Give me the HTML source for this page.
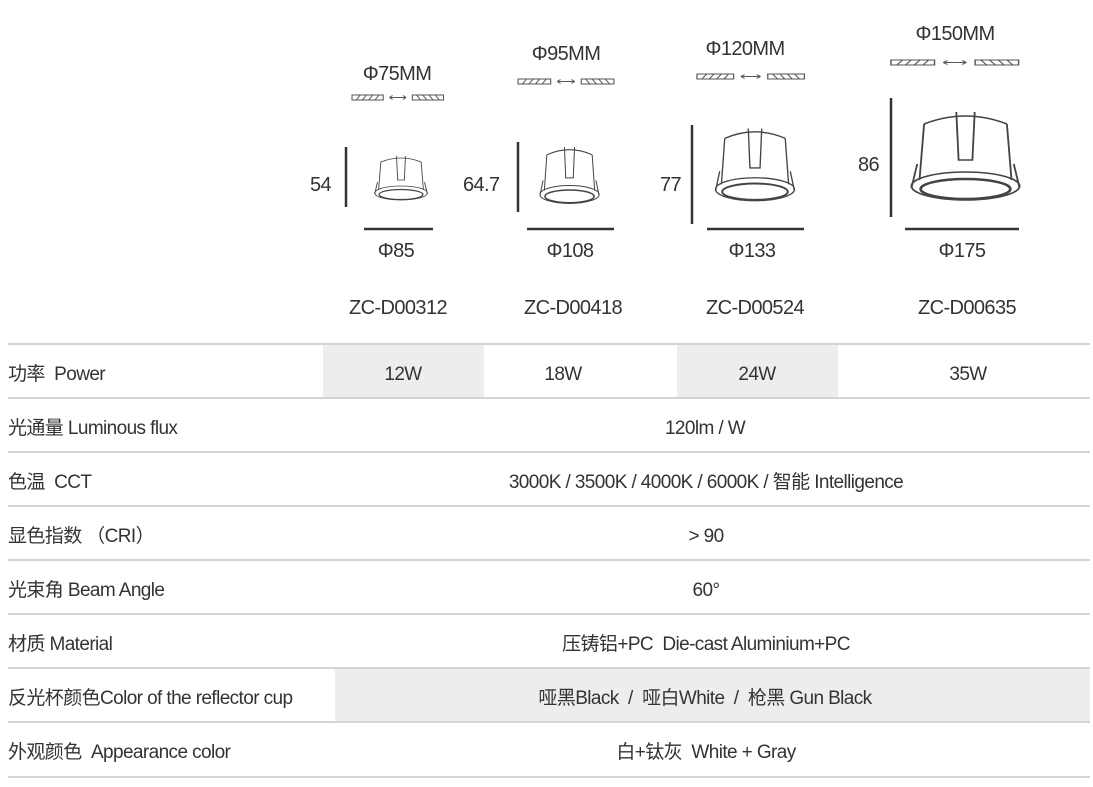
<!DOCTYPE html>
<html><head><meta charset="utf-8"><style>
body{margin:0;background:#fff;}
#c{position:relative;width:1093px;height:787px;overflow:hidden;font-family:"Liberation Sans","Noto Sans CJK SC",sans-serif;color:#333;}
.t{position:absolute;font-size:19px;letter-spacing:-0.6px;white-space:nowrap;line-height:22px;}
.b{font-size:20px;}
.ctr{transform:translateX(-50%);}
.g{position:absolute;background:#ededed;}
.ln{position:absolute;left:8px;width:1082px;height:2px;background:#d4d4d4;}
</style></head><body><div id="c">
<svg width="1093" height="340" style="position:absolute;left:0;top:0">
<defs>
<g id="lamp" fill="none" stroke="#444" stroke-width="1.6">
<path d="M14 20 Q50 4 86 20"/>
<path d="M14 20 L10 76 M86 20 L90 76"/>
<path d="M42 8 L44 56 L56 56 L58 8"/>
<path d="M8 60 L3 84 M92 60 L97 84"/>
<ellipse cx="50" cy="82" rx="47" ry="14"/>
<ellipse cx="50" cy="85" rx="39" ry="10" stroke-width="2.4"/>
</g>
<g id="ceil" stroke="#555" stroke-width="1" fill="none">
<rect x="0" y="0" width="30" height="5"/><path d="M4 5 L8 0 M10 5 L14 0 M16 5 L20 0 M22 5 L26 0"/>
<rect x="58" y="0" width="30" height="5"/><path d="M62 0 L66 5 M68 0 L72 5 M74 0 L78 5 M80 0 L84 5"/>
<path d="M36 2.5 L52 2.5 M36 2.5 l3 -2 M36 2.5 l3 2 M52 2.5 l-3 -2 M52 2.5 l-3 2"/>
</g>
</defs>
<g stroke="#333" stroke-width="2.5">
<line x1="346" y1="147" x2="346" y2="207"/><line x1="364" y1="229" x2="433" y2="229"/>
<line x1="518" y1="142" x2="518" y2="212"/><line x1="527" y1="229" x2="614" y2="229"/>
<line x1="692" y1="125" x2="692" y2="224"/><line x1="707" y1="229" x2="804" y2="229"/>
<line x1="891" y1="98" x2="891" y2="217"/><line x1="905" y1="229" x2="1019" y2="229"/>
</g>
<use href="#ceil" transform="translate(352,95) scale(1.04,1)"/>
<use href="#ceil" transform="translate(518,79) scale(1.09,1)"/>
<use href="#ceil" transform="translate(697,74) scale(1.22,1)"/>
<use href="#ceil" transform="translate(891,60) scale(1.45,1)"/>
<use href="#lamp" transform="translate(373,152) scale(0.56,0.5)"/>
<use href="#lamp" transform="translate(538,142) scale(0.63,0.64)"/>
<use href="#lamp" transform="translate(713,122) scale(0.84,0.82)"/>
<use href="#lamp" transform="translate(908,104) scale(1.15,1.0)"/>
</svg>
<div class="t ctr b" style="left:397px;top:63px">Φ75MM</div>
<div class="t ctr b" style="left:566px;top:43px">Φ95MM</div>
<div class="t ctr b" style="left:745px;top:38px">Φ120MM</div>
<div class="t ctr b" style="left:955px;top:23px">Φ150MM</div>
<div class="t b" style="left:310px;top:174px">54</div>
<div class="t b" style="left:463px;top:174px">64.7</div>
<div class="t b" style="left:660px;top:174px">77</div>
<div class="t b" style="left:858px;top:154px">86</div>
<div class="t ctr b" style="left:396px;top:240px">Φ85</div>
<div class="t ctr b" style="left:570px;top:240px">Φ108</div>
<div class="t ctr b" style="left:752px;top:240px">Φ133</div>
<div class="t ctr b" style="left:962px;top:240px">Φ175</div>
<div class="t ctr b" style="left:398px;top:297px">ZC-D00312</div>
<div class="t ctr b" style="left:573px;top:297px">ZC-D00418</div>
<div class="t ctr b" style="left:755px;top:297px">ZC-D00524</div>
<div class="t ctr b" style="left:967px;top:297px">ZC-D00635</div>

<div class="g" style="left:323px;top:345px;width:161px;height:53px"></div>
<div class="g" style="left:677px;top:345px;width:161px;height:53px"></div>
<div class="g" style="left:335px;top:669px;width:755px;height:53px"></div>
<div class="ln" style="top:343px"></div>
<div class="ln" style="top:397px"></div>
<div class="ln" style="top:451px"></div>
<div class="ln" style="top:505px"></div>
<div class="ln" style="top:559px"></div>
<div class="ln" style="top:613px"></div>
<div class="ln" style="top:667px"></div>
<div class="ln" style="top:721px"></div>
<div class="ln" style="top:776px"></div>

<div class="t" style="left:8px;top:364px">功率&nbsp; Power</div>
<div class="t ctr" style="left:403px;top:364px">12W</div>
<div class="t ctr" style="left:563px;top:364px">18W</div>
<div class="t ctr" style="left:757px;top:364px">24W</div>
<div class="t ctr" style="left:968px;top:364px">35W</div>
<div class="t" style="left:8px;top:418px">光通量 Luminous flux</div>
<div class="t ctr" style="left:705px;top:418px">120lm / W</div>
<div class="t" style="left:8px;top:472px">色温&nbsp; CCT</div>
<div class="t ctr" style="left:706px;top:472px">3000K / 3500K / 4000K / 6000K / 智能 Intelligence</div>
<div class="t" style="left:8px;top:526px">显色指数 （CRI）</div>
<div class="t ctr" style="left:706px;top:526px">&gt; 90</div>
<div class="t" style="left:8px;top:580px">光束角 Beam Angle</div>
<div class="t ctr" style="left:706px;top:580px">60°</div>
<div class="t" style="left:8px;top:634px">材质 Material</div>
<div class="t ctr" style="left:706px;top:634px">压铸铝+PC&nbsp; Die-cast Aluminium+PC</div>
<div class="t" style="left:8px;top:688px">反光杯颜色Color of the reflector cup</div>
<div class="t ctr" style="left:705px;top:688px">哑黑Black&nbsp; /&nbsp; 哑白White&nbsp; /&nbsp; 枪黑 Gun Black</div>
<div class="t" style="left:8px;top:742px">外观颜色&nbsp; Appearance color</div>
<div class="t ctr" style="left:706px;top:742px">白+钛灰&nbsp; White + Gray</div>
</div></body></html>
